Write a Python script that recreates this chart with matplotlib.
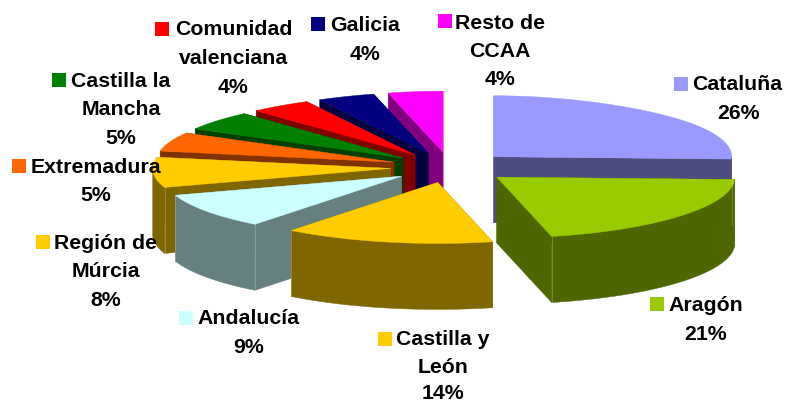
import numpy as np
import matplotlib
matplotlib.use("Agg")
import matplotlib.pyplot as plt
from matplotlib.patches import Polygon, Rectangle

regions = ["Cataluña", "Aragón", "Castilla y León", "Andalucía", "Región de Múrcia",
           "Extremadura", "Castilla la Mancha", "Comunidad valenciana", "Galicia", "Resto de CCAA"]
values = [25.6, 20.7, 14.25, 9.4, 8.0, 5.0, 5.0, 4.0, 4.0, 4.05]
percent_labels = ["26%", "21%", "14%", "9%", "8%", "5%", "5%", "4%", "4%", "4%"]
top_colors = ["#9999FF", "#99CC00", "#FFCC00", "#CCFFFF", "#FFCC00",
              "#FF6600", "#008000", "#FF0000", "#000080", "#FF00FF"]
side_colors = ["#4D4D80", "#4D6600", "#806600", "#668080", "#806600",
               "#803300", "#004000", "#800000", "#000040", "#800080"]

W, H = 785, 403
CX, CY, RX, RY, DEPTH, EXPLODE, PERSP = 450.5, 167.4, 238.0, 61.0, 66.0, 0.252, 0.10

fig = plt.figure(figsize=(W / 100, H / 100), dpi=100, facecolor="white")
ax = fig.add_axes([0, 0, 1, 1])
ax.set_xlim(0, W)
ax.set_ylim(H, 0)
ax.axis("off")


def pt(theta, ox, oy):
    c = np.cos(theta)
    return ox + RX * np.sin(theta) * (1 - PERSP * np.maximum(c, 0) ** 4), oy - RY * c


edges = np.radians(np.concatenate([[0], np.cumsum(values)]) * 360 / sum(values))
slices = []
for i in range(len(values)):
    a0, a1 = edges[i], edges[i + 1]
    mid = (a0 + a1) / 2
    ox = CX + EXPLODE * RX * np.sin(mid)
    oy = CY - EXPLODE * RY * np.cos(mid)
    slices.append((oy, i, a0, a1, ox))

for oy, i, a0, a1, ox in sorted(slices):
    side, top = side_colors[i], top_colors[i]
    for a in (a0, a1):
        x, y = pt(a, ox, oy)
        quad = [(ox, oy), (x, y), (x, y + DEPTH), (ox, oy + DEPTH)]
        ax.add_patch(Polygon(quad, fc=side, ec=side, lw=0.3))
    lo, hi = max(a0, np.pi / 2), min(a1, 3 * np.pi / 2)
    if hi > lo:
        t = np.linspace(lo, hi, 80)
        xs, ys = pt(t, ox, oy)
        wall = np.r_[np.c_[xs, ys], np.c_[xs[::-1], ys[::-1] + DEPTH]]
        ax.add_patch(Polygon(wall, fc=side, ec=side, lw=0.3))
        for a in (a0, a1):
            if lo <= a <= hi:
                x, y = pt(a, ox, oy)
                ax.plot([x, x], [y, y + DEPTH], color="white", alpha=0.25, lw=0.6)
    t = np.linspace(a0, a1, 80)
    xs, ys = pt(t, ox, oy)
    ax.add_patch(Polygon(np.r_[[(ox, oy)], np.c_[xs, ys]], fc=top, ec=top, lw=0.3))

FS = 15.3
FONT = dict(family="Liberation Sans", fontweight="bold", fontsize=FS, color="black",
            ha="center", va="baseline")
placements = {
    0: (674, 77, [(737.5, 90, "Cataluña"), (738, 119, None)]),
    1: (650, 297, [(706, 311, "Aragón"), (706, 340, None)]),
    2: (378, 332, [(443, 345, "Castilla y"), (443, 373, "León"), (443, 399, None)]),
    3: (179, 311, [(248.5, 324, "Andalucía"), (249, 353, None)]),
    4: (36, 235, [(106, 249, "Región de"), (106, 277, "Múrcia"), (106, 306, None)]),
    5: (12, 159, [(96, 173, "Extremadura"), (96, 201, None)]),
    6: (52, 73, [(121, 87, "Castilla la"), (121, 115, "Mancha"), (121, 144, None)]),
    7: (155, 22, [(233.5, 35, "Comunidad"), (233.5, 64, "valenciana"), (233.5, 93, None)]),
    8: (311, 17, [(365, 31, "Galicia"), (365, 60, None)]),
    9: (438, 14, [(500, 29, "Resto de"), (500, 57, "CCAA"), (500, 85, None)]),
}
for i, (kx, ky, lines) in placements.items():
    ax.add_patch(Rectangle((kx, ky), 14, 14, fc=top_colors[i], ec="none", zorder=5))
    for x, y, s in lines:
        ax.text(x, y, s if s else percent_labels[i], zorder=6, **FONT)

fig.savefig("out.png", dpi=100, facecolor="white")
